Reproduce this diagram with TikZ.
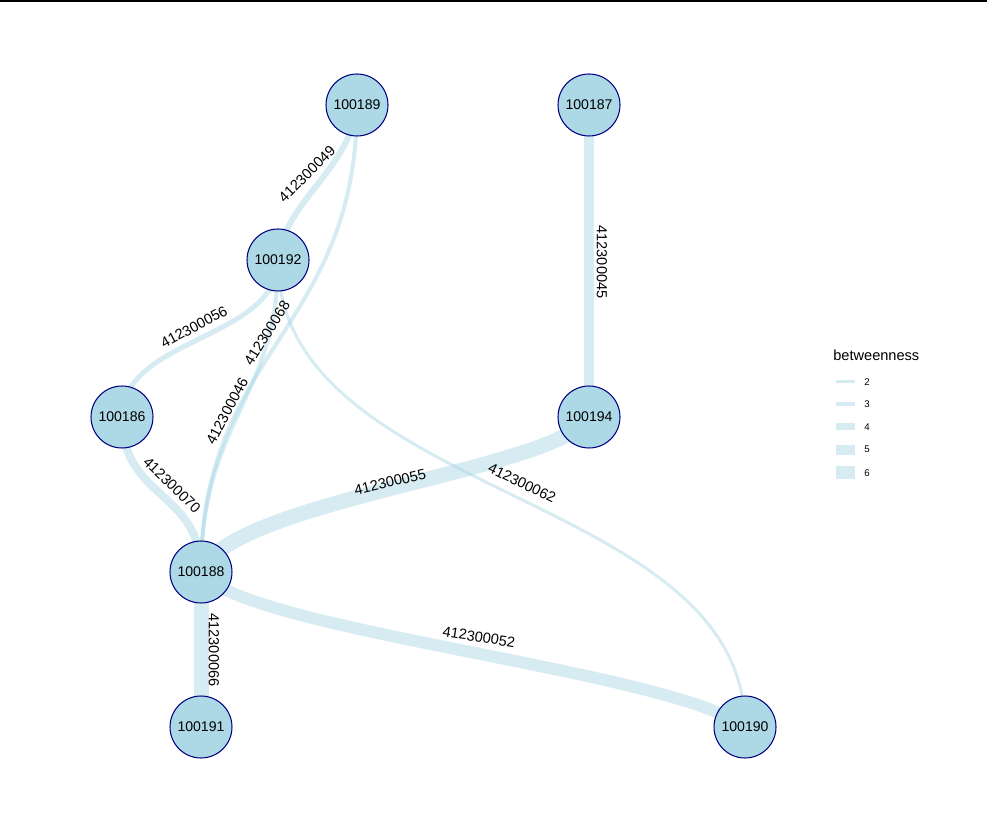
\documentclass[tikz,border=0pt]{standalone}
\usepackage{fontspec}
\setmainfont{Liberation Sans}
\usepackage{xcolor}
\usepackage{tikz}
\usetikzlibrary{backgrounds,positioning}
\definecolor{nodeblue}{HTML}{ADD8E6}
\definecolor{nodenavy}{HTML}{000080}
\definecolor{edgeblue}{HTML}{ADD8E6}

\begin{document}
\begin{tikzpicture}[x=0.02cm, y=-0.02cm,
  vertex/.style={circle, draw=nodenavy, line width=0.6pt, fill=nodeblue,
    minimum size=1.24cm, inner sep=0pt, font=\fontsize{8}{9}\selectfont},
  netedge/.style={draw=edgeblue, opacity=0.5, line width=#1*0.02cm},
  elabel/.style={inner sep=0pt, font=\fontsize{8.3}{9}\selectfont},
  legkey/.style={fill=edgeblue, opacity=0.5, inner sep=0pt, minimum width=0.38cm, minimum height=#1*0.02cm}]
  \useasboundingbox (0,0) rectangle (987,837);
  % frame rule along the top
  \draw[line width=1pt] (0,1) -- (987,1);
  % stations
  \node[vertex] (n100189) at (357,105) {100189};
  \node[vertex] (n100187) at (589,105) {100187};
  \node[vertex] (n100192) at (278,260) {100192};
  \node[vertex] (n100186) at (122,417) {100186};
  \node[vertex] (n100194) at (589,417) {100194};
  \node[vertex] (n100188) at (201,572) {100188};
  \node[vertex] (n100191) at (201,727) {100191};
  \node[vertex] (n100190) at (745,727) {100190};
  % links, width after betweenness, kept behind the stations
  \begin{pgfonlayer}{background}
    \draw[netedge=10] (n100187.center) -- (n100194.center);
    \draw[netedge=15] (n100188.center) -- (n100191.center);
    \draw[netedge=6] (n100192.center) .. controls (285,200) and (350,170) .. (n100189.center);
    \draw[netedge=4] (n100189.center) .. controls (357,330) and (201,350) .. (n100188.center);
    \draw[netedge=4] (n100192.center) .. controls (278,400) and (201,420) .. (n100188.center);
    \draw[netedge=5] (n100192.center) .. controls (278,340) and (122,337) .. (n100186.center);
    \draw[netedge=3] (n100192.center) .. controls (278,500) and (745,490) .. (n100190.center);
    \draw[netedge=8] (n100186.center) .. controls (122,500) and (201,490) .. (n100188.center);
    \draw[netedge=15] (n100188.center) .. controls (230,500) and (560,470) .. (n100194.center);
    \draw[netedge=12] (n100188.center) .. controls (240,630) and (670,670) .. (n100190.center);
  \end{pgfonlayer}
  % link labels
  \node[elabel, rotate=-90] (l045) at (602,262) {412300045};
  \node[elabel, rotate=-90] (l066) at (214,650) {412300066};
  \node[elabel, rotate=45] (l049) at (307,174) {412300049};
  \node[elabel, rotate=28] (l056) at (194,327) {412300056};
  \node[elabel, rotate=58] (l068) at (267,333) {412300068};
  \node[elabel, rotate=62] (l046) at (227,411) {412300046};
  \node[elabel, rotate=-44] (l070) at (172,485) {412300070};
  \node[elabel, rotate=13] (l055) at (390,482) {412300055};
  \node[elabel, rotate=-26] (l062) at (522,483) {412300062};
  \node[elabel, rotate=-9] (l052) at (479,637) {412300052};
  % legend
  \node[anchor=west, inner sep=0pt, font=\fontsize{8.3}{9}\selectfont] (legtitle) at (833,355) {betweenness};
  \foreach \v/\yy/\h in {2/381.7/2.7, 3/404/4.5, 4/426.7/7, 5/449.7/10, 6/472.7/12.7} {
    \node[legkey=\h] (key\v) at (845,\yy) {};
    \node[anchor=west, inner sep=0pt, font=\fontsize{5.5}{6}\selectfont] (keylab\v) at (864,\yy) {\v};
  }
\end{tikzpicture}
\end{document}
